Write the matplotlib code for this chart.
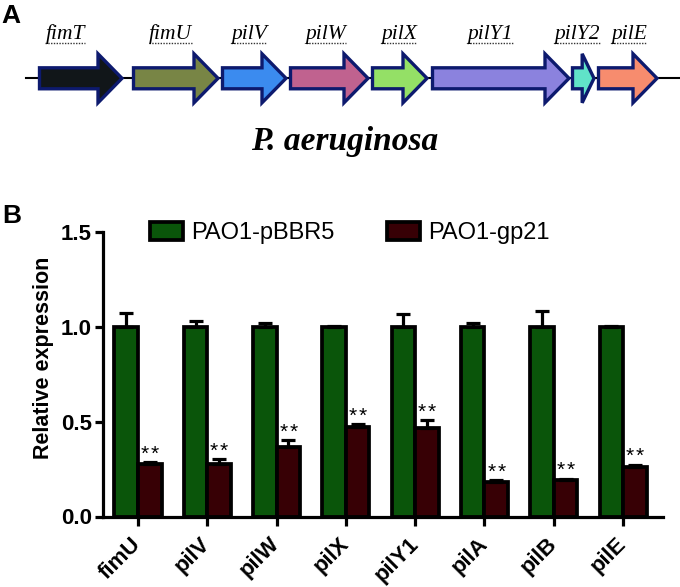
import matplotlib
matplotlib.use("Agg")
import matplotlib.pyplot as plt
from matplotlib.patches import FancyArrow
import numpy as np

plt.rcParams['font.family'] = ['Liberation Sans', 'DejaVu Sans']

# panel A: gene cluster (pixel coordinates of the figure)
genes = ["fimT", "fimU", "pilV", "pilW", "pilX", "pilY1", "pilY2", "pilE"]
gene_start = [38, 132, 221, 289, 371, 431, 571, 597]
gene_end = [124, 220, 288, 370, 429, 571, 596, 659]
gene_colors = ["#111619", "#788545", "#3b8bef", "#c0628f", "#94e066",
               "#8b82de", "#60e3c8", "#f78c6e"]
label_x = [65, 170, 249, 326, 399, 490, 577, 629]

# panel B: qPCR
targets = ["fimU", "pilV", "pilW", "pilX", "pilY1", "pilA", "pilB", "pilE"]
ctrl = [1.0, 1.0, 1.0, 1.0, 1.0, 1.0, 1.0, 1.0]
ctrl_err = [0.075, 0.03, 0.02, 0.005, 0.07, 0.02, 0.085, 0.005]
gp21 = [0.279, 0.275, 0.366, 0.473, 0.465, 0.182, 0.19, 0.262]
gp21_err = [0.01, 0.03, 0.035, 0.015, 0.045, 0.008, 0.01, 0.012]

green = "#0a550a"
maroon = "#370005"
navy = "#0d1a6e"

fig = plt.figure(figsize=(6.8, 5.87), dpi=100)

ax0 = fig.add_axes([0, 0, 1, 1])
ax0.set_xlim(0, 680)
ax0.set_ylim(587, 0)
ax0.axis('off')

ymid = 78.3
ax0.plot([26, 680], [ymid, ymid], color='black', lw=1.5, zorder=1)
for s, e, c in zip(gene_start, gene_end, gene_colors):
    length = (e - 2) - (s + 1.5)
    hl = min(24, 0.55 * length)
    arr = FancyArrow(s + 1.5, ymid, length, 0, width=21, head_width=49,
                     head_length=hl, length_includes_head=True,
                     fc=c, ec=navy, lw=2.4, joinstyle='miter', zorder=2)
    ax0.add_patch(arr)

labels = []
for name, lx in zip(genes, label_x):
    t = ax0.text(lx, 39, name, family=['Liberation Serif'], style='italic',
                 fontsize=15.5, ha='center', va='baseline')
    labels.append(t)

ax0.text(345, 150, "P. aeruginosa", family=['Liberation Serif'],
         style='italic', weight='bold', fontsize=24, ha='center', va='baseline')
ax0.text(1, 23, "A", weight='bold', fontsize=19, va='baseline')
ax0.text(2, 223, "B", weight='bold', fontsize=19, va='baseline')

# panel B axes
ax = fig.add_axes([103 / 680, 1 - 516.5 / 587, 560 / 680, 284.5 / 587])
x = np.arange(len(targets))
w = 0.34
ekw = dict(elinewidth=2.3, capsize=4.7, capthick=2.3, ecolor='black')
ax.bar(x - w / 2, ctrl, w, color=green, edgecolor='black', lw=2.7,
       yerr=[np.zeros(len(ctrl)), ctrl_err], error_kw=ekw, label="PAO1-pBBR5")
ax.bar(x + w / 2, gp21, w, color=maroon, edgecolor='black', lw=2.7,
       yerr=[np.zeros(len(gp21)), gp21_err], error_kw=ekw, label="PAO1-gp21")

for xi, v, e in zip(x, gp21, gp21_err):
    for dx in (-3.6, 3.6):
        ax.annotate("*", (xi + w / 2, v + e + 0.012), xytext=(dx, 0),
                    textcoords='offset points', ha='center', va='baseline',
                    fontsize=15)

ax.set_xlim(-0.505, 7.576)
ax.set_ylim(0, 1.5)
ax.set_yticks([0, 0.5, 1.0, 1.5])
ax.set_yticklabels(["0.0", "0.5", "1.0", "1.5"], fontsize=16, weight='bold')
ax.set_xticks(x)
ax.set_xticklabels(targets, fontsize=16, weight='bold', rotation=45,
                   ha='right', va='center', rotation_mode='anchor')
ax.tick_params(axis='x', length=6.5, width=2.3, pad=11)
ax.tick_params(axis='y', length=6, width=2.3, pad=2)
for sp in ['top', 'right']:
    ax.spines[sp].set_visible(False)
for sp in ['left', 'bottom']:
    ax.spines[sp].set_linewidth(2.3)
ax.set_ylabel("Relative expression", fontsize=15.5, weight='bold')
ax.yaxis.set_label_coords(-0.087, 0.557)

ax.legend(loc='center left', bbox_to_anchor=(150 / 680, 1 - 233 / 587),
          bbox_transform=fig.transFigure, ncol=2, frameon=False,
          fontsize=17, handlelength=1.4, handleheight=0.8,
          handletextpad=0.35, columnspacing=2.2, borderpad=0,
          borderaxespad=0)

# dotted underline under gene names
fig.canvas.draw()
inv = ax0.transData.inverted()
for t in labels:
    bb = t.get_window_extent()
    (x0, _), (x1, _) = inv.transform([[bb.x0, bb.y0], [bb.x1, bb.y0]])
    ax0.plot([x0, x1], [43, 43], color='#333333', lw=1, ls=(0, (1, 1)))

fig.savefig("out.png", dpi=100)
